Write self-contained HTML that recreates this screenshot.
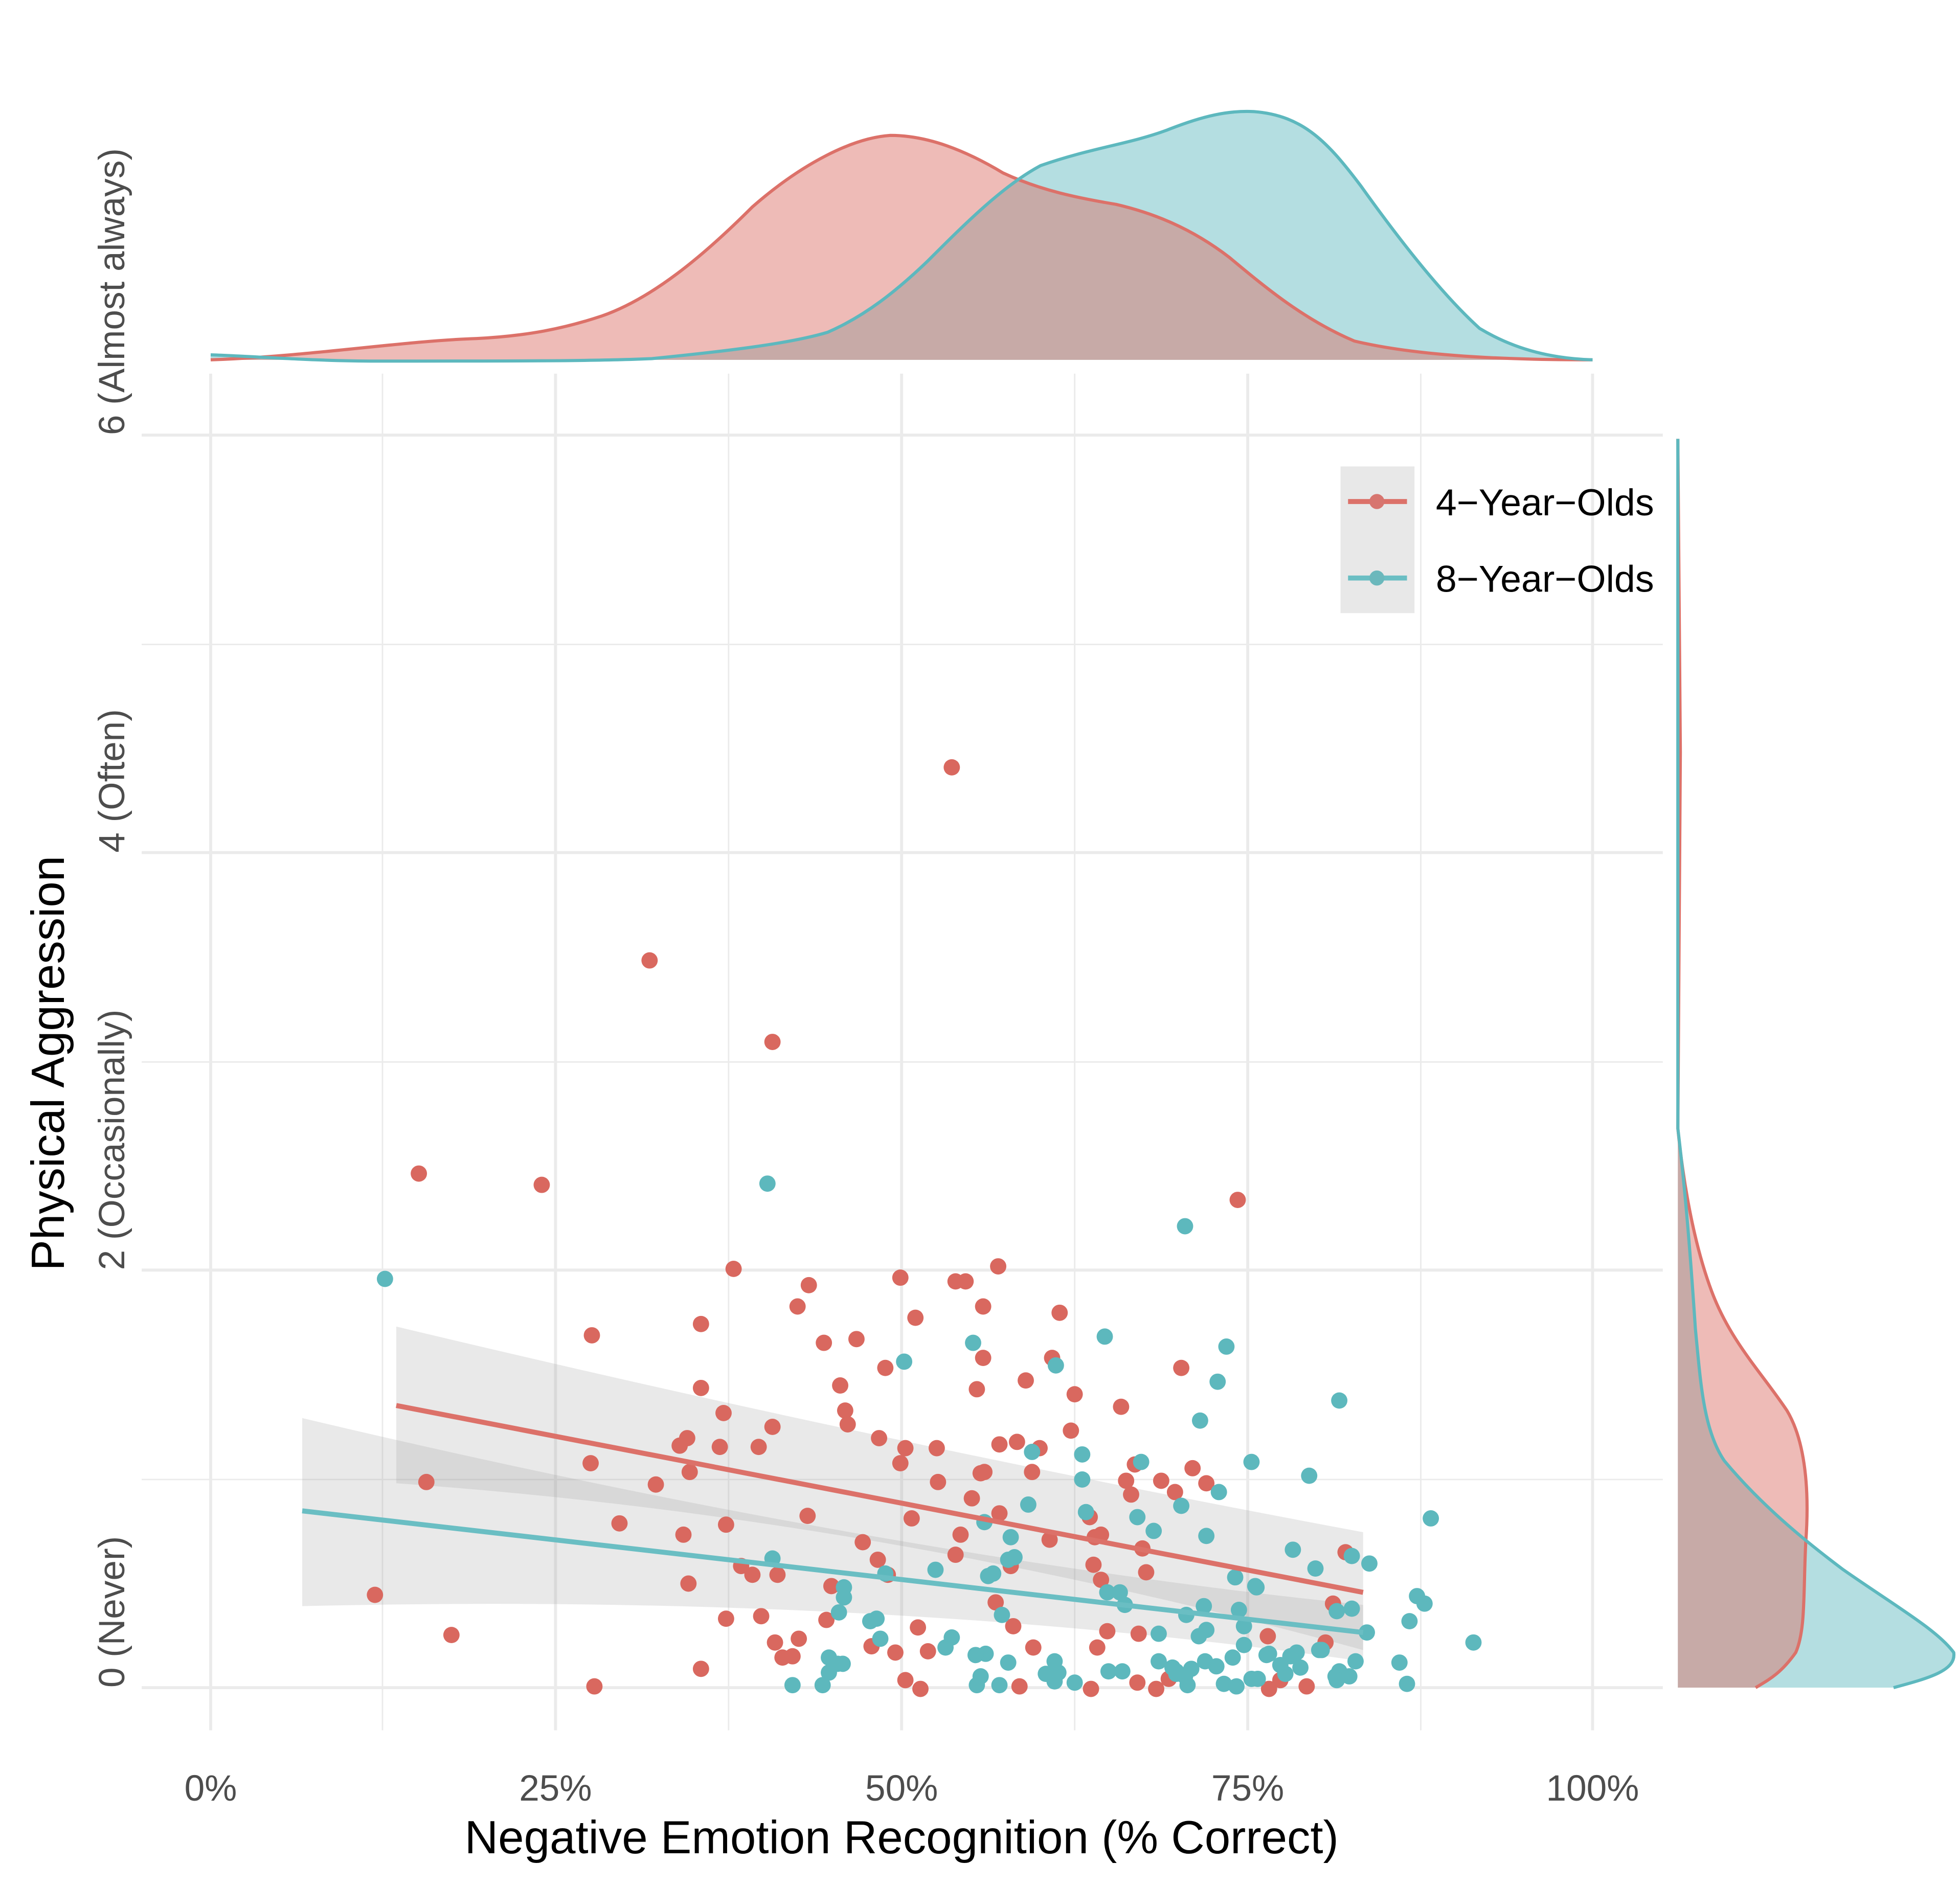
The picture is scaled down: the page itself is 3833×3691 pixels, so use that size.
<!DOCTYPE html>
<html><head><meta charset="utf-8">
<style>html,body{margin:0;padding:0;background:#fff}svg{display:block}</style></head>
<body>
<svg id="s" width="3833" height="3691" viewBox="0 0 1563 1505" preserveAspectRatio="none" xmlns="http://www.w3.org/2000/svg" font-family="Liberation Sans, Arial, sans-serif">
<rect width="1563" height="1505" fill="#fff"/>
<!-- top density -->
<path d="M168,283 C200,284 250,288 300,288 C400,288 480,288 520,286 C580,280 630,274 660,265 C690,252 715,232 740,208 C770,178 800,148 830,132 C870,118 900,115 930,104 C960,92 980,88 1000,89 C1040,92 1060,115 1085,148 C1115,190 1150,235 1180,262 C1210,280 1240,286 1270,287 L168,287 Z" fill="#6ABEC3" fill-opacity="0.5" stroke="none"/>
<path d="M168,287 L168,287 C250,284 320,272 380,270 C420,268 450,262 480,252 C520,238 560,205 600,165 C640,130 680,110 710,108 C740,108 770,120 800,138 C830,152 860,158 890,163 C920,170 950,182 980,205 C1010,230 1040,255 1080,272 C1130,284 1200,287 1270,287 Z" fill="#DC7169" fill-opacity="0.48" stroke="none"/>
<path d="M168,287 C250,284 320,272 380,270 C420,268 450,262 480,252 C520,238 560,205 600,165 C640,130 680,110 710,108 C740,108 770,120 800,138 C830,152 860,158 890,163 C920,170 950,182 980,205 C1010,230 1040,255 1080,272 C1130,284 1200,287 1270,287" fill="none" stroke="#DC7169" stroke-width="2.5"/>
<path d="M168,283 C200,284 250,288 300,288 C400,288 480,288 520,286 C580,280 630,274 660,265 C690,252 715,232 740,208 C770,178 800,148 830,132 C870,118 900,115 930,104 C960,92 980,88 1000,89 C1040,92 1060,115 1085,148 C1115,190 1150,235 1180,262 C1210,280 1240,286 1270,287" fill="none" stroke="#5DB8BE" stroke-width="2.5"/>
<!-- grid -->
<g stroke="#ebebeb" stroke-width="1.2">
<line x1="305" y1="298" x2="305" y2="1380"/><line x1="581" y1="298" x2="581" y2="1380"/><line x1="857" y1="298" x2="857" y2="1380"/><line x1="1133" y1="298" x2="1133" y2="1380"/>
<line x1="113" y1="514" x2="1326" y2="514"/><line x1="113" y1="847" x2="1326" y2="847"/><line x1="113" y1="1180" x2="1326" y2="1180"/>
</g>
<g stroke="#ebebeb" stroke-width="2.4">
<line x1="168" y1="298" x2="168" y2="1380"/><line x1="443" y1="298" x2="443" y2="1380"/><line x1="719" y1="298" x2="719" y2="1380"/><line x1="995" y1="298" x2="995" y2="1380"/><line x1="1270" y1="298" x2="1270" y2="1380"/>
<line x1="113" y1="347" x2="1326" y2="347"/><line x1="113" y1="680" x2="1326" y2="680"/><line x1="113" y1="1013" x2="1326" y2="1013"/><line x1="113" y1="1346" x2="1326" y2="1346"/>
</g>
<!-- bands -->
<path d="M316,1058 Q700,1150 1087,1222 L1087,1316 Q700,1210 316,1183 Z" fill="#999" fill-opacity="0.22"/>
<path d="M241,1131 Q700,1240 1087,1280 L1087,1325 Q700,1270 241,1281 Z" fill="#999" fill-opacity="0.22"/>
<g id="pts"></g>
<line x1="316" y1="1121" x2="1087" y2="1270" stroke="#DC7169" stroke-width="4"/>
<line x1="241" y1="1205" x2="1087" y2="1302" stroke="#6ABEC3" stroke-width="4"/>
<!-- right density -->
<path d="M1338,350 L1338,900 C1344,950 1348,1000 1352,1060 C1356,1100 1358,1140 1375,1165 C1400,1195 1430,1222 1470,1252 C1510,1280 1545,1300 1558,1318 C1560,1332 1540,1338 1510,1346 L1338,1346 Z" fill="#6ABEC3" fill-opacity="0.5"/>
<path d="M1338,350 L1340,600 L1338,900 C1342,940 1350,990 1365,1030 C1380,1070 1405,1095 1425,1125 C1440,1150 1443,1190 1440,1230 C1438,1270 1440,1300 1432,1318 C1420,1335 1410,1340 1400,1346 L1338,1346 Z" fill="#DC7169" fill-opacity="0.48"/>
<path d="M1338,350 L1340,600 L1338,900 C1342,940 1350,990 1365,1030 C1380,1070 1405,1095 1425,1125 C1440,1150 1443,1190 1440,1230 C1438,1270 1440,1300 1432,1318 C1420,1335 1410,1340 1400,1346" fill="none" stroke="#DC7169" stroke-width="2.5"/>
<path d="M1338,350 L1338,900 C1344,950 1348,1000 1352,1060 C1356,1100 1358,1140 1375,1165 C1400,1195 1430,1222 1470,1252 C1510,1280 1545,1300 1558,1318 C1560,1332 1540,1338 1510,1346" fill="none" stroke="#5DB8BE" stroke-width="2.5"/>
<!-- legend -->
<rect x="1069" y="372" width="59" height="117" fill="#e8e8e8"/>
<line x1="1075" y1="400" x2="1122" y2="400" stroke="#DC7169" stroke-width="4"/>
<circle cx="1098" cy="400" r="6" fill="#D7756F"/>
<line x1="1075" y1="461" x2="1122" y2="461" stroke="#6ABEC3" stroke-width="4"/>
<circle cx="1098" cy="461" r="6" fill="#6BB8BC"/>
<text x="1145" y="411" font-size="30" fill="#000">4−Year−Olds</text>
<text x="1145" y="472" font-size="30" fill="#000">8−Year−Olds</text>
<!-- axis labels -->
<g font-size="29" fill="#4d4d4d" text-anchor="middle">
<text x="168" y="1436">0%</text><text x="443" y="1436">25%</text><text x="719" y="1436">50%</text><text x="995" y="1436">75%</text><text x="1270" y="1436">100%</text>
</g>
<g font-size="29" fill="#4d4d4d">
<text transform="translate(99,1346) rotate(-90)">0 (Never)</text>
<text transform="translate(99,1013) rotate(-90)">2 (Occasionally)</text>
<text transform="translate(99,680) rotate(-90)">4 (Often)</text>
<text transform="translate(99,347) rotate(-90)">6 (Almost always)</text>
</g>
<text x="719" y="1478" font-size="37" text-anchor="middle" fill="#000">Negative Emotion Recognition (% Correct)</text>
<text transform="translate(51,848) rotate(-90)" font-size="37" text-anchor="middle" fill="#000">Physical Aggression</text>
</svg>
<script>
var R=[[759,612],[518,766],[616,831],[334,936],[432,945],[987,957],[796,1010],[585,1012],[718,1019],[645,1025],[762,1022],[770,1022],[636,1042],[784,1042],[559,1056],[730,1051],[845,1047],[472,1065],[657,1071],[683,1068],[839,1083],[784,1083],[706,1091],[942,1091],[818,1101],[559,1107],[670,1105],[779,1108],[857,1112],[674,1125],[894,1122],[577,1127],[616,1138],[676,1136],[854,1141],[701,1147],[811,1150],[797,1152],[542,1153],[548,1147],[574,1154],[605,1154],[722,1155],[747,1155],[829,1155],[471,1167],[718,1167],[782,1175],[785,1174],[823,1174],[905,1168],[550,1174],[951,1171],[898,1181],[926,1181],[937,1190],[962,1183],[340,1182],[523,1184],[748,1182],[902,1192],[775,1195],[644,1209],[727,1211],[797,1207],[494,1215],[579,1216],[837,1228],[869,1210],[873,1226],[878,1224],[545,1224],[766,1224],[688,1230],[911,1235],[762,1240],[700,1244],[591,1249],[806,1249],[600,1256],[620,1256],[708,1256],[872,1248],[878,1260],[914,1254],[663,1265],[299,1272],[549,1263],[794,1278],[579,1291],[607,1289],[659,1292],[808,1297],[732,1298],[908,1303],[360,1304],[883,1301],[1011,1305],[618,1310],[637,1307],[695,1313],[714,1318],[740,1317],[875,1314],[824,1314],[624,1322],[632,1321],[559,1331],[722,1340],[734,1347],[474,1345],[813,1345],[870,1347],[922,1347],[1012,1347],[1042,1345],[907,1342],[932,1339],[1021,1340],[1057,1310],[1073,1238],[1063,1279]];
var T=[[612,944],[945,978],[307,1020],[881,1066],[776,1071],[978,1074],[721,1086],[842,1089],[971,1102],[1068,1117],[957,1133],[823,1158],[863,1160],[998,1166],[910,1166],[863,1180],[1044,1177],[972,1190],[942,1201],[820,1200],[1141,1211],[866,1206],[907,1210],[785,1214],[806,1226],[920,1221],[962,1225],[809,1242],[804,1244],[1031,1236],[616,1243],[1078,1241],[1092,1247],[746,1252],[706,1255],[1049,1251],[985,1258],[788,1257],[792,1255],[1002,1266],[883,1270],[893,1270],[673,1266],[673,1274],[1001,1265],[897,1280],[960,1281],[1130,1273],[1136,1279],[1078,1283],[1066,1285],[946,1288],[988,1284],[669,1286],[799,1288],[699,1291],[694,1293],[1124,1293],[992,1297],[1090,1302],[962,1300],[924,1303],[956,1305],[1175,1310],[1054,1316],[759,1306],[702,1307],[754,1314],[992,1312],[786,1319],[778,1320],[804,1326],[841,1325],[1029,1321],[1012,1319],[1034,1318],[661,1322],[924,1325],[961,1325],[983,1322],[1010,1320],[1081,1325],[1116,1326],[935,1330],[970,1329],[938,1333],[950,1331],[884,1333],[895,1333],[834,1335],[844,1334],[938,1335],[945,1337],[1065,1337],[1025,1335],[1068,1333],[1076,1337],[668,1327],[661,1334],[672,1327],[632,1344],[656,1344],[782,1337],[779,1344],[841,1341],[797,1344],[857,1342],[976,1343],[986,1345],[1003,1339],[1066,1340],[1122,1343],[947,1344],[998,1339],[1037,1330],[1052,1316],[1021,1328]];
var g=document.getElementById('pts'),h='';
R.forEach(function(p){h+='<circle cx="'+p[0]+'" cy="'+p[1]+'" r="6.5" fill="#D9685F"/>';});
T.forEach(function(p){h+='<circle cx="'+p[0]+'" cy="'+p[1]+'" r="6.5" fill="#5DB8BD"/>';});
g.innerHTML=h;
</script>
</body></html>
